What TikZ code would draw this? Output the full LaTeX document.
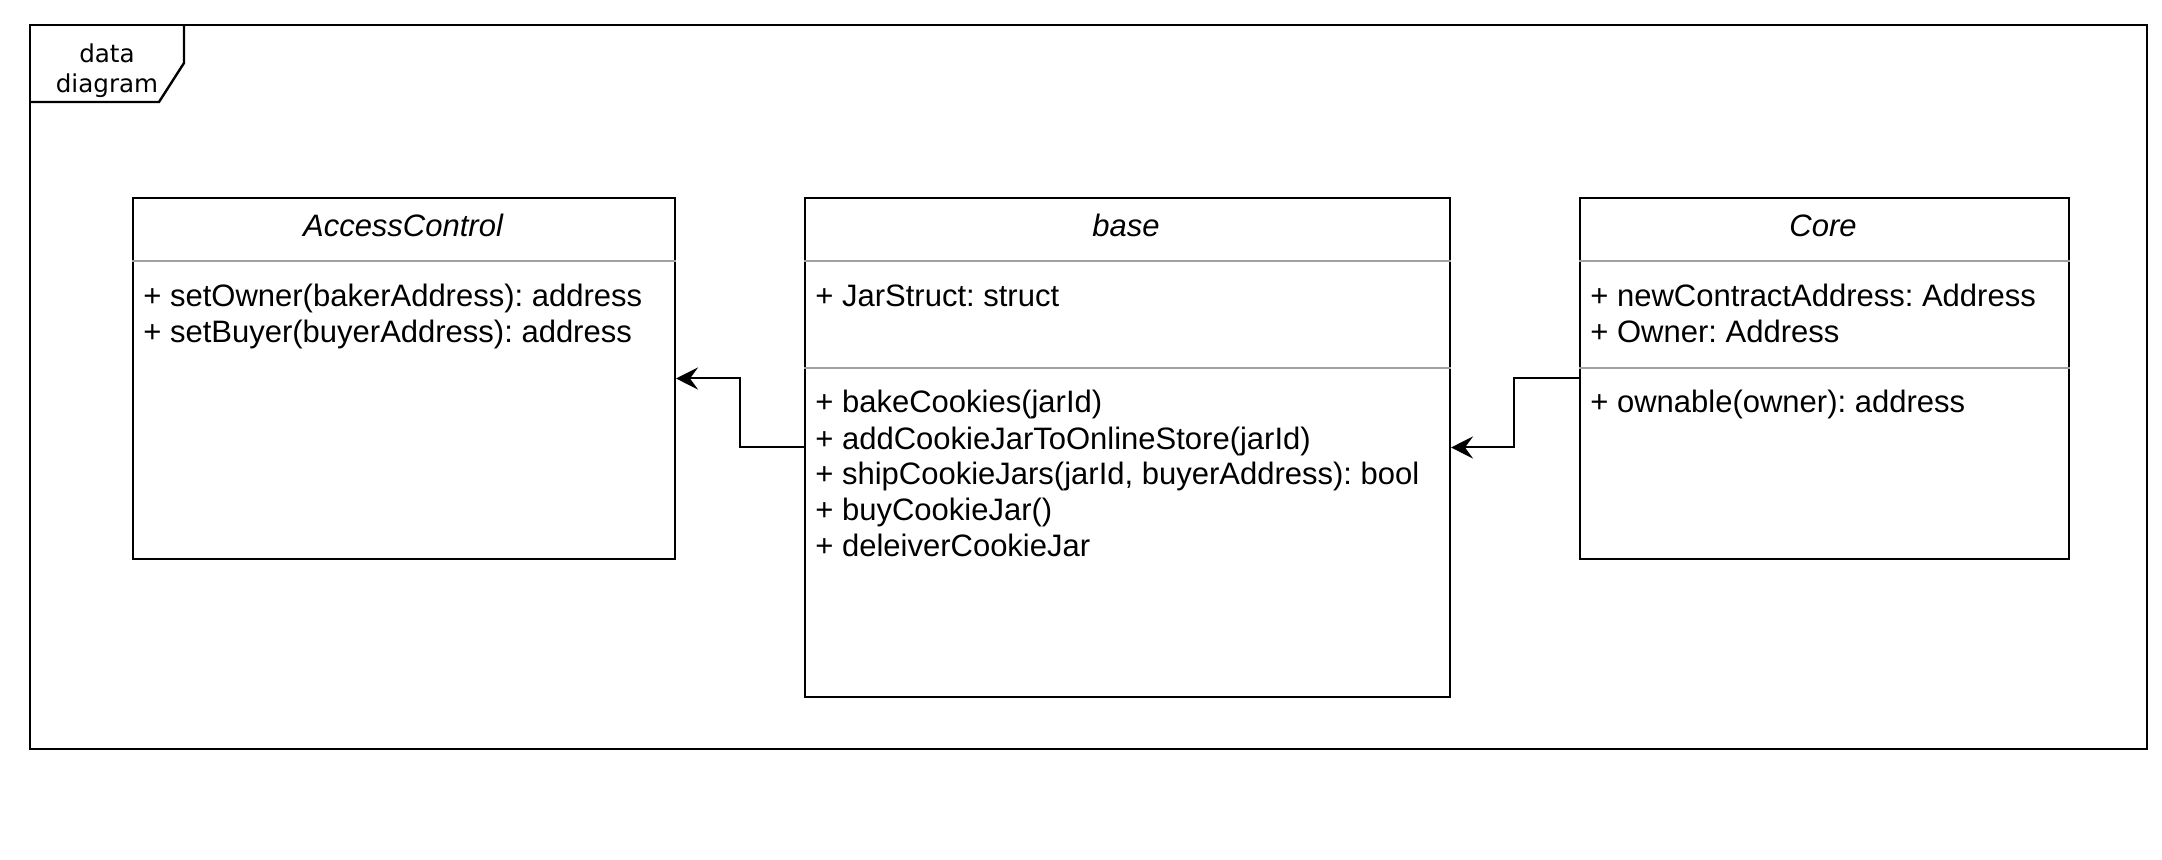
\documentclass[tikz,border=0pt]{standalone}
\usepackage{fontspec}
\setmainfont{Liberation Sans}
\newfontfamily\tabfont{DejaVu Sans}
\usetikzlibrary{arrows.meta,positioning}
\frenchspacing

\definecolor{sepgray}{RGB}{160,160,160}

\tikzset{
    classbox/.style   = {rectangle, draw = black, line width = 1pt, fill = white,
                         anchor = north west, inner sep = 0pt},
    classtitle/.style = {font = \fontsize{15.5}{18}\selectfont\itshape, anchor = base},
    members/.style    = {font = \fontsize{15.5}{18}\selectfont, align = left,
                         anchor = base west, inner sep = 0pt},
    sepline/.style    = {draw = sepgray, line width = 1pt},
    conn/.style       = {-{Stealth[length=11pt, width=11pt, inset=4pt]}, line width = 1pt},
}

\begin{document}
\begin{tikzpicture}[x=0.5pt, y=-0.5pt]
        \useasboundingbox (0,0) rectangle (2162,860);

        % ---------------------------------------------------------------------------
        % Frame
        % ---------------------------------------------------------------------------
        \draw[line width = 1.2pt] (30,25) rectangle (2147,749);
        \draw[line width = 1.2pt] (30,102) -- (159,102) -- (184,63) -- (184,25);
        % base anchor of a multi-line node sits on its last line
        \node[  font = \tabfont\fontsize{12.3}{15}\selectfont,
                align = center,
                anchor = base,
                inner sep = 0pt]  (FrameLabel) at (107,93) {data\\diagram};

        % ---------------------------------------------------------------------------
        % Draw classes
        % ---------------------------------------------------------------------------
        \node[  classbox,
                minimum width = 271pt,
                minimum height = 180.5pt]  (AccessControl) at (132,197) {};

        \node[  classbox,
                minimum width = 322.5pt,
                minimum height = 249.5pt]  (Base) at (804,197) {};

        \node[  classbox,
                minimum width = 244.5pt,
                minimum height = 180.5pt]  (Core) at (1579,197) {};

        % compartments
        \draw[sepline] ([yshift=-32pt]AccessControl.north west) -- ([yshift=-32pt]AccessControl.north east);
        \draw[sepline] ([yshift=-32pt]Base.north west)          -- ([yshift=-32pt]Base.north east);
        \draw[sepline] ([yshift=-85.5pt]Base.north west)        -- ([yshift=-85.5pt]Base.north east);
        \draw[sepline] ([yshift=-32pt]Core.north west)          -- ([yshift=-32pt]Core.north east);
        \draw[sepline] ([yshift=-85.5pt]Core.north west)        -- ([yshift=-85.5pt]Core.north east);

        % ---------------------------------------------------------------------------
        % Texts
        % ---------------------------------------------------------------------------
        \node[classtitle] (AccessControlTitle) at (403,237)  {AccessControl};
        \node[classtitle] (BaseTitle)          at (1126,237) {base};
        \node[classtitle] (CoreTitle)          at (1823,237) {Core};

        \node[members] (AccessControlOps) at (143,343)
            {+ setOwner(bakerAddress): address\\+ setBuyer(buyerAddress): address};

        \node[members] (BaseAttrs) at (815,307) {+ JarStruct: struct};
        \node[members] (BaseOps)   at (815,557)
            {+ bakeCookies(jarId)\\+ addCookieJarToOnlineStore(jarId)\\+ shipCookieJars(jarId, buyerAddress): bool\\+ buyCookieJar()\\+ deleiverCookieJar};

        \node[members] (CoreAttrs) at (1590,343)
            {+ newContractAddress: Address\\+ Owner: Address};
        \node[members] (CoreOps)   at (1590,413) {+ ownable(owner): address};

        % ---------------------------------------------------------------------------
        % Draw arrows
        % ---------------------------------------------------------------------------
        \draw [conn] (Base.west) -- ++(-64,0) |- (AccessControl.east);   % base -> AccessControl
        \draw [conn] (Core.west) -- ++(-65,0) |- (Base.east);            % Core -> base

\end{tikzpicture}
\end{document}
